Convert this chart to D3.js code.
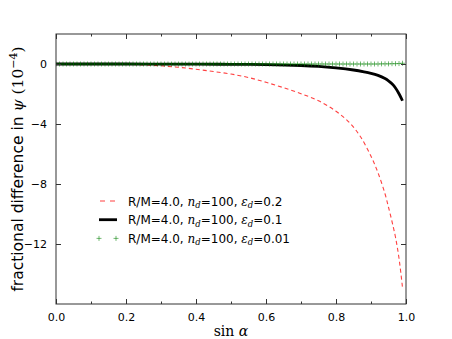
<!DOCTYPE html>
<html>
<head>
<meta charset="utf-8">
<script src="https://cdn.jsdelivr.net/npm/d3@7"></script>
<style>
  body { margin: 0; background: #fff; }
  text { font-family: "DejaVu Sans", sans-serif; }
</style>
</head>
<body>
<div id="chart"></div>
<script>
// values (units of 1e-4)
const redX = [0, 0.1, 0.2, 0.25, 0.3, 0.35, 0.4, 0.45, 0.5, 0.55, 0.6, 0.65, 0.7, 0.75, 0.8, 0.84, 0.87, 0.9, 0.92, 0.94, 0.95, 0.96, 0.97, 0.98, 0.99]
const redY = [0, 0, -0.02, -0.06, -0.12, -0.22, -0.35, -0.5, -0.67, -0.9, -1.22, -1.58, -1.98, -2.45, -3.15, -3.95, -4.85, -6.15, -7.25, -8.65, -9.55, -10.5, -11.55, -12.95, -14.9]

const blackX = [0, 0.2, 0.4, 0.5, 0.6, 0.7, 0.75, 0.8, 0.85, 0.88, 0.9, 0.92, 0.94, 0.95, 0.96, 0.97, 0.98, 0.99]
const blackY = [0, 0, -0.01, -0.02, -0.04, -0.1, -0.16, -0.26, -0.4, -0.52, -0.62, -0.76, -0.97, -1.12, -1.32, -1.6, -1.98, -2.45]

const greenX = [0, 0.01, 0.02, 0.03, 0.04, 0.05, 0.06, 0.07, 0.08, 0.09,
  0.1, 0.11, 0.12, 0.13, 0.14, 0.15, 0.16, 0.17, 0.18, 0.19,
  0.2, 0.21, 0.22, 0.23, 0.24, 0.25, 0.26, 0.27, 0.28, 0.29,
  0.3, 0.31, 0.32, 0.33, 0.34, 0.35, 0.36, 0.37, 0.38, 0.39,
  0.4, 0.41, 0.42, 0.43, 0.44, 0.45, 0.46, 0.47, 0.48, 0.49,
  0.5, 0.51, 0.52, 0.53, 0.54, 0.55, 0.56, 0.57, 0.58, 0.59,
  0.6, 0.61, 0.62, 0.63, 0.64, 0.65, 0.66, 0.67, 0.68, 0.69,
  0.7, 0.71, 0.72, 0.73, 0.74, 0.75, 0.76, 0.77, 0.78, 0.79,
  0.8, 0.81, 0.82, 0.83, 0.84, 0.85, 0.86, 0.87, 0.88, 0.89,
  0.9, 0.91, 0.92, 0.93, 0.94, 0.95, 0.96, 0.97, 0.98, 0.99]
const greenY = [0, 0, 0, 0, 0, 0, 0, 0, 0, 0,
  0, 0, 0, 0, 0, 0, 0, 0, 0, 0,
  0, 0, 0, 0, 0, 0, 0, 0, 0, 0,
  0, 0, 0, 0, 0, 0, 0, 0, 0, 0,
  0, 0, 0, 0, 0, 0, 0, 0, 0, 0,
  0, 0, 0, 0, 0, 0, 0, 0, 0, 0,
  0, 0, 0, 0, 0, 0, 0, 0, 0, 0,
  0, 0, 0, 0, 0, 0, 0, 0, 0, 0,
  0, 0, 0, 0, 0, 0, 0, 0, 0, 0,
  0, 0, 0, 0.01, 0.01, 0.01, 0.02, 0.02, 0.03, 0.05]

const xTicks = [0, 0.2, 0.4, 0.6, 0.8, 1.0]
const xMinor = [0.1, 0.3, 0.5, 0.7, 0.9]
const yTicks = [0, -4, -8, -12]

const legendItems = [
  {eps: "0.2", kind: "red"},
  {eps: "0.1", kind: "black"},
  {eps: "0.01", kind: "green"}
]

const margin = {top: 34, right: 46, bottom: 35, left: 56}
const W = 452, H = 339
const width = W - margin.left - margin.right
const height = H - margin.top - margin.bottom

const svg = d3.select("#chart").append("svg")
  .attr("width", W).attr("height", H)

const g = svg.append("g")
  .attr("transform", `translate(${margin.left},${margin.top})`)

const x = d3.scaleLinear().domain([0, 1]).range([0, width])
const y = d3.scaleLinear().domain([-16, 2]).range([height, 0])

svg.append("clipPath").attr("id", "clip")
  .append("rect").attr("width", width).attr("height", height)

const plot = g.append("g").attr("clip-path", "url(#clip)")

const line = d3.line().x(d => x(d[0])).y(d => y(d[1])).curve(d3.curveCatmullRom.alpha(0.5))

plot.append("path")
  .datum(redX.map((v, i) => [v, redY[i]]))
  .attr("d", line)
  .attr("fill", "none")
  .attr("stroke", "#ff2020")
  .attr("stroke-opacity", 0.85)
  .attr("stroke-width", 1.1)
  .attr("stroke-dasharray", "4,3")

plot.append("path")
  .datum(blackX.map((v, i) => [v, blackY[i]]))
  .attr("d", line)
  .attr("fill", "none")
  .attr("stroke", "#000")
  .attr("stroke-width", 2.8)

const plusPath = s => `M${-s},0H${s}M0,${-s}V${s}`

plot.append("g")
  .selectAll("path")
  .data(greenX.map((v, i) => [v, greenY[i]]))
  .join("path")
  .attr("d", plusPath(2.5))
  .attr("transform", d => `translate(${x(d[0])},${y(d[1])})`)
  .attr("stroke", "#008000")
  .attr("stroke-opacity", 0.55)
  .attr("stroke-width", 1)
  .attr("fill", "none")

// axes: ticks inside, on all four sides
const axisColor = "#333"
function styleAxis(sel) {
  sel.select(".domain").remove()
  sel.selectAll(".tick line").attr("stroke", axisColor)
  sel.selectAll(".tick text").attr("fill", "#000")
    .style("font-size", "11px").style("font-family", "DejaVu Sans, sans-serif")
}

g.append("g").attr("transform", `translate(0,${height})`)
  .call(d3.axisBottom(x).tickValues(xTicks).tickFormat(d3.format(".1f")).tickSizeInner(-5).tickPadding(9))
  .call(styleAxis)
g.append("g").attr("transform", `translate(0,${height})`)
  .call(d3.axisBottom(x).tickValues(xMinor).tickFormat("").tickSizeInner(-2.5))
  .call(styleAxis)
g.append("g")
  .call(d3.axisTop(x).tickValues(xTicks).tickFormat("").tickSizeInner(-5))
  .call(styleAxis)
g.append("g")
  .call(d3.axisTop(x).tickValues(xMinor).tickFormat("").tickSizeInner(-2.5))
  .call(styleAxis)
g.append("g")
  .call(d3.axisLeft(y).tickValues(yTicks).tickFormat(d => d === 0 ? "0" : "\u2212" + Math.abs(d)).tickSizeInner(-5).tickPadding(9))
  .call(styleAxis)
g.append("g").attr("transform", `translate(${width},0)`)
  .call(d3.axisRight(y).tickValues(yTicks).tickFormat("").tickSizeInner(-5))
  .call(styleAxis)

g.append("rect")
  .attr("width", width).attr("height", height)
  .attr("fill", "none").attr("stroke", axisColor).attr("stroke-width", 1)

// axis labels
g.append("text")
  .attr("x", width / 2).attr("y", height + 32)
  .attr("text-anchor", "middle")
  .style("font-family", "DejaVu Serif, serif").style("font-size", "14px")
  .html('sin <tspan font-style="italic">α</tspan>')

const yl = svg.append("text")
  .attr("transform", `translate(23,${margin.top + height / 2}) rotate(-90)`)
  .attr("text-anchor", "middle")
  .style("font-size", "15.5px")
yl.append("tspan").text("fractional difference in ")
yl.append("tspan").style("font-family", "DejaVu Serif, serif").style("font-style", "italic").text("ψ")
yl.append("tspan").style("font-family", "DejaVu Serif, serif").text(" (10")
yl.append("tspan").style("font-family", "DejaVu Serif, serif").style("font-size", "11px").attr("dy", -6).text("\u22124")
yl.append("tspan").style("font-family", "DejaVu Serif, serif").attr("dy", 6).text(")")

// legend
const leg = g.append("g").attr("transform", "translate(43,167)")
legendItems.forEach((it, i) => {
  const row = leg.append("g").attr("transform", `translate(0,${i * 18.7})`)
  if (it.kind === "red") {
    row.append("line").attr("x1", 0).attr("x2", 17).attr("y1", 0).attr("y2", 0)
      .attr("stroke", "#ff2020").attr("stroke-opacity", 0.85).attr("stroke-width", 1.1)
      .attr("stroke-dasharray", "5,5").attr("stroke-dashoffset", -1)
  } else if (it.kind === "black") {
    row.append("line").attr("x1", 0).attr("x2", 18).attr("y1", 0).attr("y2", 0)
      .attr("stroke", "#000").attr("stroke-width", 2.8)
  } else {
    [0, 17].forEach(px => {
      row.append("path").attr("d", plusPath(2.5))
        .attr("transform", `translate(${px},0)`)
        .attr("stroke", "#008000").attr("stroke-opacity", 0.55).attr("fill", "none")
    })
  }
  const t = row.append("text").attr("x", 29).attr("y", 4.5).style("font-size", "12px")
  t.append("tspan").text("R/M=4.0, ")
  t.append("tspan").style("font-family", "DejaVu Serif, serif").style("font-style", "italic").text("n")
  t.append("tspan").style("font-family", "DejaVu Serif, serif").style("font-style", "italic").style("font-size", "8.5px").attr("dy", 2.5).text("d")
  t.append("tspan").attr("dy", -2.5).text("=100, ")
  t.append("tspan").style("font-family", "DejaVu Serif, serif").style("font-style", "italic").text("ε")
  t.append("tspan").style("font-family", "DejaVu Serif, serif").style("font-style", "italic").style("font-size", "8.5px").attr("dy", 2.5).text("d")
  t.append("tspan").attr("dy", -2.5).text("=" + it.eps)
})
</script>
</body>
</html>
